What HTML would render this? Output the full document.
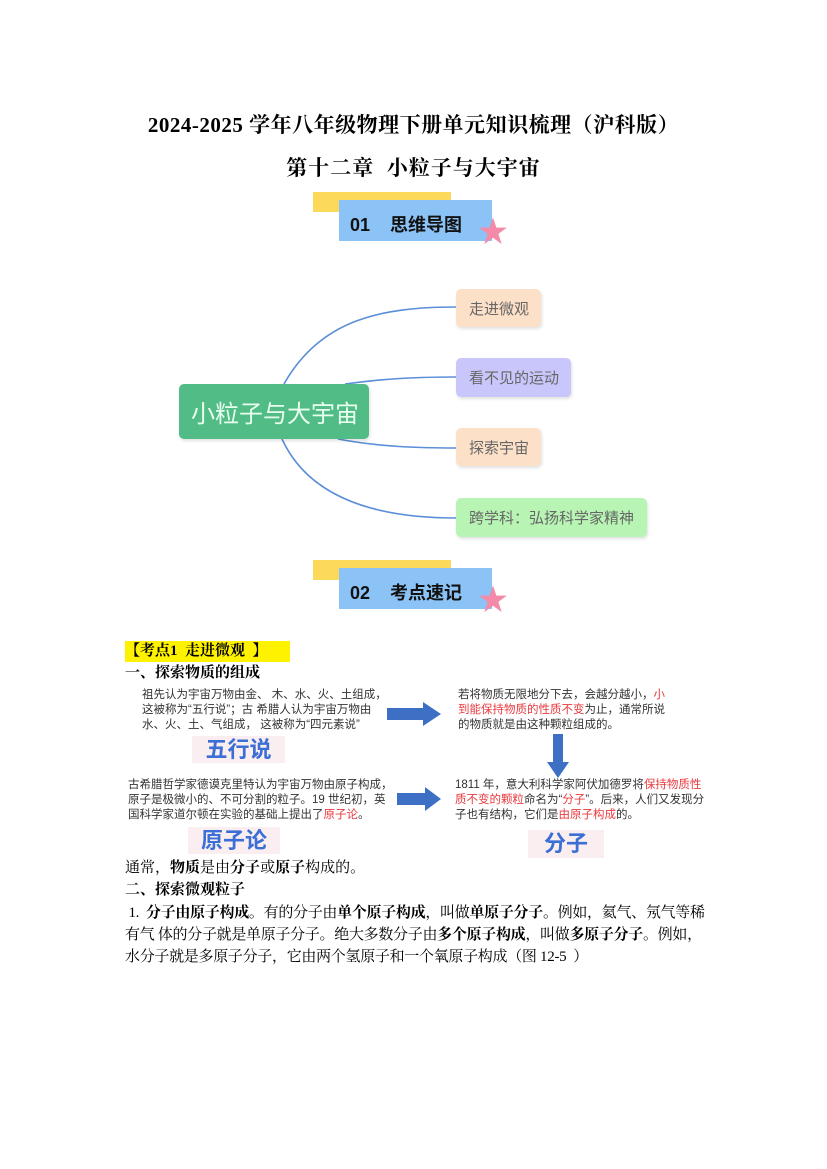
<!DOCTYPE html>
<html><head><meta charset="utf-8"><style>
body{margin:0;width:827px;height:1169px;background:#fff;position:relative;overflow:hidden;font-family:"Liberation Serif","Noto Serif CJK SC",serif;color:#000}
.a{position:absolute;white-space:nowrap}
.s{font-family:"Liberation Sans","Noto Sans CJK SC",sans-serif}
.sm{font-family:"Liberation Sans","Noto Sans CJK SC",sans-serif;font-size:11.5px;line-height:15px;color:#333}
.r{color:#e8383d}
.node{position:absolute;border-radius:5px;font-family:"Liberation Sans","Noto Sans CJK SC",sans-serif;font-size:15px;color:#666;display:flex;align-items:center;padding-left:13px;box-sizing:border-box;box-shadow:1px 2px 3px rgba(0,0,0,.12)}
.lbl{position:absolute;background:#fbeef0;font-family:"Liberation Sans","Noto Sans CJK SC",sans-serif;font-weight:bold;color:#3b6fd6;font-size:22px;text-align:center}
b{font-weight:bold}
.body{font-size:15px;line-height:22px}
</style></head><body>
<div class="a" style="left:0;width:827px;text-align:center;top:109px;font-size:21px;font-weight:bold;letter-spacing:0.5px">2024-2025 学年八年级物理下册单元知识梳理（沪科版）</div>
<div class="a" style="left:0;width:827px;text-align:center;top:152px;font-size:21px;font-weight:bold;letter-spacing:1px">第十二章&nbsp; 小粒子与大宇宙</div>

<div class="a" style="left:313px;top:192px;width:138px;height:20px;background:#fdd95b"></div>
<div class="a s" style="left:339px;top:200px;width:153px;height:41px;background:#8cc3f6;font-weight:bold;font-size:18px;line-height:50px;color:#111;padding-left:11px;box-sizing:border-box">01&nbsp;&nbsp;&nbsp;&nbsp;思维导图</div>
<div class="a" style="left:478px;top:218px;font-size:30px;color:#f28aa8;line-height:30px">★</div>

<svg class="a" style="left:0;top:0" width="827" height="600">
<g fill="none" stroke="#5b8ed8" stroke-width="1.6">
<path d="M284 384 C320 320 380 307 456 307"/>
<path d="M345 384 C390 378 420 377 456 377"/>
<path d="M338 439 C380 447 420 448 456 448"/>
<path d="M282 439 C310 500 380 518 456 518"/>
</g></svg>
<div class="node" style="left:179px;top:384px;width:190px;height:55px;background:#52bc86;color:#e8fff0;font-size:24px;padding-left:12px">小粒子与大宇宙</div>
<div class="node" style="left:456px;top:289px;width:85px;height:38px;background:#fde0c8">走进微观</div>
<div class="node" style="left:456px;top:358px;width:115px;height:39px;background:#c9c6fb">看不见的运动</div>
<div class="node" style="left:456px;top:428px;width:85px;height:38px;background:#fde0c8">探索宇宙</div>
<div class="node" style="left:456px;top:498px;width:191px;height:39px;background:#b8f5b4">跨学科：弘扬科学家精神</div>

<div class="a" style="left:313px;top:560px;width:138px;height:20px;background:#fdd95b"></div>
<div class="a s" style="left:339px;top:568px;width:153px;height:41px;background:#8cc3f6;font-weight:bold;font-size:18px;line-height:50px;color:#111;padding-left:11px;box-sizing:border-box">02&nbsp;&nbsp;&nbsp;&nbsp;考点速记</div>
<div class="a" style="left:478px;top:586px;font-size:30px;color:#f28aa8;line-height:30px">★</div>

<div class="a" style="left:125px;top:641px;width:165px;height:21px;background:#fff200"></div>
<div class="a" style="left:125px;top:641px;font-size:15px;font-weight:bold;line-height:21px">【考点1&nbsp; 走进微观&nbsp; 】</div>
<div class="a" style="left:125px;top:663px;font-size:15px;font-weight:bold;line-height:21px">一、探索物质的组成</div>

<div class="a sm" style="left:142px;top:688px">祖先认为宇宙万物由金、 木、水、火、土组成，<br>这被称为“五行说”；古 希腊人认为宇宙万物由<br>水、火、土、气组成， 这被称为“四元素说”</div>
<svg class="a" style="left:385px;top:700px" width="60" height="28"><polygon points="2,8 38,8 38,2 56,14 38,26 38,20 2,20" fill="#3d6fc4"/></svg>
<div class="a sm" style="left:458px;top:688px">若将物质无限地分下去，会越分越小，<span class="r">小</span><br><span class="r">到能保持物质的性质不变</span>为止，通常所说<br>的物质就是由这种颗粒组成的。</div>
<svg class="a" style="left:546px;top:734px" width="24" height="46"><polygon points="7,0 17,0 17,28 23,28 12,44 1,28 7,28" fill="#3d6fc4"/></svg>
<div class="lbl" style="left:192px;top:736px;width:93px;height:27px;line-height:27px">五行说</div>

<div class="a sm" style="left:128px;top:778px">古希腊哲学家德谟克里特认为宇宙万物由原子构成，<br>原子是极微小的、不可分割的粒子。19 世纪初，英<br>国科学家道尔顿在实验的基础上提出了<span class="r">原子论</span>。</div>
<svg class="a" style="left:395px;top:786px" width="50" height="26"><polygon points="2,7 30,7 30,1 46,13 30,25 30,19 2,19" fill="#3d6fc4"/></svg>
<div class="a sm" style="left:455px;top:778px">1811 年，意大利科学家阿伏加德罗将<span class="r">保持物质性</span><br><span class="r">质不变的颗粒</span>命名为“<span class="r">分子</span>”。后来，人们又发现分<br>子也有结构，它们是<span class="r">由原子构成</span>的。</div>
<div class="lbl" style="left:188px;top:827px;width:92px;height:27px;line-height:27px">原子论</div>
<div class="lbl" style="left:528px;top:830px;width:76px;height:28px;line-height:28px">分子</div>

<div class="a body" style="left:125px;top:857px">通常，<b>物质</b>是由<b>分子</b>或<b>原子</b>构成的。</div>
<div class="a body" style="left:125px;top:879px;font-weight:bold">二、探索微观粒子</div>
<div class="a body" style="left:125px;top:902px;letter-spacing:-0.3px">&nbsp;1.&nbsp; <b>分子由原子构成</b>。有的分子由<b>单个原子构成</b>，叫做<b>单原子分子</b>。例如，氦气、氖气等稀</div>
<div class="a body" style="left:125px;top:924px;letter-spacing:-0.3px">有气 体的分子就是单原子分子。绝大多数分子由<b>多个原子构成</b>，叫做<b>多原子分子</b>。例如，</div>
<div class="a body" style="left:125px;top:946px;letter-spacing:-0.3px">水分子就是多原子分子，它由两个氢原子和一个氧原子构成（图 12-5&nbsp; ）</div>
</body></html>
